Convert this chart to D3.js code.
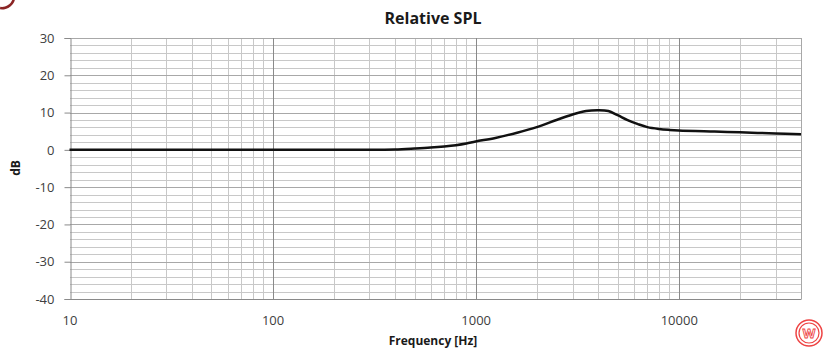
<!DOCTYPE html>
<html>
<head>
<meta charset="utf-8">
<script src="https://cdn.jsdelivr.net/npm/d3@7"></script>
<style>
  body { margin: 0; background: #fff; }
  svg { display: block; font-family: "Open Sans", sans-serif; }
</style>
</head>
<body>
<div id="chart"></div>
<script>
// frequency (Hz) and relative level (dB)
const freqs = [10, 100, 300, 400, 500, 600, 700, 800, 900, 1000, 1250, 1600, 2000, 2500, 3000, 3500, 4000, 4500, 5000, 5600, 6300, 7000, 8000, 9000, 10000, 15000, 20000, 30000, 40000];
const levels = [0, 0, 0, 0.1, 0.35, 0.6, 0.9, 1.25, 1.7, 2.25, 3.2, 4.6, 6.1, 8.0, 9.5, 10.4, 10.6, 10.4, 9.3, 8.0, 6.9, 6.1, 5.6, 5.35, 5.2, 4.9, 4.7, 4.4, 4.2];
const xTicks = [10, 100, 1000, 10000];
const yTicks = [-40, -30, -20, -10, 0, 10, 20, 30];

const width = 825, height = 352;
const margin = { top: 38, right: 24, bottom: 53, left: 69.5 };

const svg = d3.select('#chart').append('svg')
  .attr('width', width)
  .attr('height', height);

const x = d3.scaleLog()
  .domain([10, 40000])
  .range([margin.left, width - margin.right]);

const y = d3.scaleLinear()
  .domain([-40, 30])
  .range([height - margin.bottom, margin.top]);

const grid = svg.append('g').attr('shape-rendering', 'crispEdges');

// minor horizontal lines every 2 dB
const yMinor = d3.range(-40, 31, 2).filter(v => v % 10 !== 0);
grid.selectAll('.ymin')
  .data(yMinor)
  .join('line')
  .attr('x1', x.range()[0]).attr('x2', x.range()[1])
  .attr('y1', d => Math.round(y(d)) + 0.5).attr('y2', d => Math.round(y(d)) + 0.5)
  .attr('stroke', '#c8c8c8');

// minor vertical lines 2..9 x decade
const xMinor = [];
[10, 100, 1000, 10000].forEach(dec => {
  for (let k = 2; k <= 9; k++) {
    if (dec * k <= 40000) xMinor.push(dec * k);
  }
});
grid.selectAll('.xmin')
  .data(xMinor)
  .join('line')
  .attr('x1', d => Math.round(x(d)) + 0.5).attr('x2', d => Math.round(x(d)) + 0.5)
  .attr('y1', y.range()[0]).attr('y2', y.range()[1])
  .attr('stroke', '#c8c8c8');

grid.selectAll('.ymaj')
  .data(yTicks)
  .join('line')
  .attr('x1', x.range()[0]).attr('x2', x.range()[1])
  .attr('y1', d => Math.round(y(d)) + 0.5).attr('y2', d => Math.round(y(d)) + 0.5)
  .attr('stroke', '#a8a8a8');

grid.selectAll('.xmaj')
  .data(xTicks.slice(1))
  .join('line')
  .attr('x1', d => Math.round(x(d)) + 0.5).attr('x2', d => Math.round(x(d)) + 0.5)
  .attr('y1', y.range()[0]).attr('y2', y.range()[1])
  .attr('stroke', '#8a8a8a');

// right edge
grid.append('line')
  .attr('x1', Math.round(x.range()[1]) + 0.5).attr('x2', Math.round(x.range()[1]) + 0.5)
  .attr('y1', y.range()[0]).attr('y2', y.range()[1])
  .attr('stroke', '#a8a8a8');

// y axis
const yAxis = svg.append('g')
  .attr('transform', `translate(${Math.round(margin.left) + 0.5},0)`)
  .call(d3.axisLeft(y).tickValues(yTicks).tickFormat(d => String(d)).tickSize(6).tickPadding(10));
yAxis.select('.domain').attr('stroke', '#8a8a8a');
yAxis.selectAll('.tick line').attr('stroke', '#8a8a8a');
yAxis.selectAll('text')
  .attr('font-size', 13)
  .attr('fill', '#404040')
  .attr('font-family', '"Open Sans", sans-serif');

// x labels (no tick marks)
const xAxis = svg.append('g')
  .attr('transform', `translate(0,${height - margin.bottom})`)
  .call(d3.axisBottom(x).tickValues(xTicks).tickFormat(d => String(d)).tickSize(0).tickPadding(17));
xAxis.select('.domain').attr('stroke', '#8a8a8a');
xAxis.selectAll('text')
  .attr('font-size', 13)
  .attr('fill', '#404040')
  .attr('font-family', '"Open Sans", sans-serif');

// curve
const data = freqs.map((f, i) => ({ f, v: levels[i] }));
const line = d3.line()
  .x(d => x(d.f))
  .y(d => y(d.v))
  .curve(d3.curveCatmullRom.alpha(0.5));

svg.append('path')
  .datum(data)
  .attr('fill', 'none')
  .attr('stroke', '#111')
  .attr('stroke-width', 2.5)
  .attr('stroke-linejoin', 'round')
  .attr('d', line);

// titles
svg.append('text')
  .attr('x', 433).attr('y', 24)
  .attr('text-anchor', 'middle')
  .attr('font-size', 16).attr('font-weight', 'bold')
  .attr('fill', '#1a1a1a')
  .text('Relative SPL');

svg.append('text')
  .attr('x', 433).attr('y', 345)
  .attr('text-anchor', 'middle')
  .attr('font-size', 12).attr('font-weight', 'bold')
  .attr('fill', '#1a1a1a')
  .text('Frequency [Hz]');

svg.append('text')
  .attr('transform', 'translate(20,168) rotate(-90)')
  .attr('text-anchor', 'middle')
  .attr('font-size', 12).attr('font-weight', 'bold')
  .attr('fill', '#1a1a1a')
  .text('dB');

// logo bits
svg.append('path')
  .attr('d', d3.arc()({ innerRadius: 11, outerRadius: 13.5, startAngle: Math.PI * 0.5, endAngle: Math.PI * 1.05 }))
  .attr('transform', 'translate(2,-4)')
  .attr('fill', '#8b2525');

const logo = svg.append('g').attr('transform', 'translate(809,333)');
logo.append('circle').attr('r', 13).attr('fill', 'none').attr('stroke', '#ee4444').attr('stroke-width', 1.5);
logo.append('circle').attr('r', 10).attr('fill', 'none').attr('stroke', '#ee4444').attr('stroke-width', 1.2);
logo.append('text')
  .attr('y', 5).attr('text-anchor', 'middle')
  .attr('font-size', 13).attr('font-weight', 'bold')
  .attr('fill', 'none').attr('stroke', '#ee4444').attr('stroke-width', 0.9)
  .text('W');
</script>
</body>
</html>
